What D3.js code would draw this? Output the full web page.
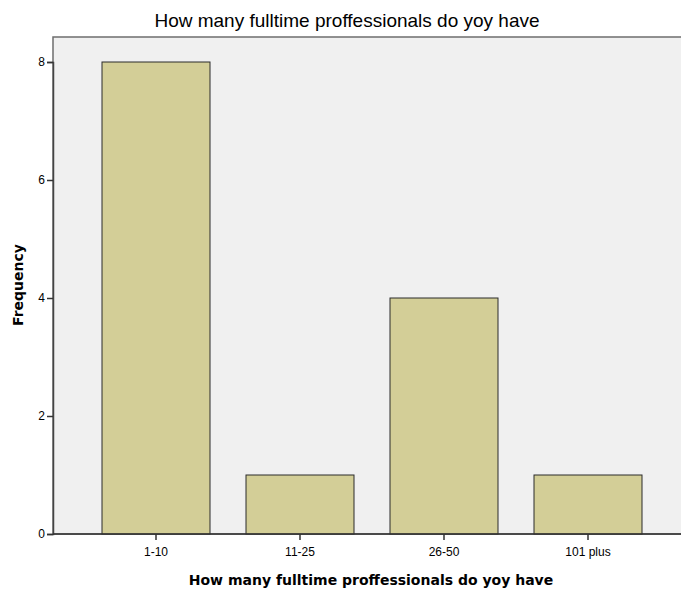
<!DOCTYPE html>
<html>
<head>
<meta charset="utf-8">
<script src="https://cdn.jsdelivr.net/npm/d3@7"></script>
<style>
  body { margin: 0; background: #fff; }
  svg { font-family: "Liberation Sans", Arial, sans-serif; }
</style>
</head>
<body>
<svg width="681" height="591"></svg>
<script>
var categories = ["1-10", "11-25", "26-50", "101 plus"];
var frequency = [8, 1, 4, 1];
var yTicks = [0, 2, 4, 6, 8];

var svg = d3.select("svg"),
    width = +svg.attr("width"),
    height = +svg.attr("height");

// plot frame (the right edge runs off the picture)
var plotLeft = 53, plotTop = 37, plotBottom = 534, plotRight = 690;

svg.append("rect")
    .attr("x", plotLeft).attr("y", plotTop)
    .attr("width", plotRight - plotLeft).attr("height", plotBottom - plotTop)
    .attr("fill", "#f0f0f0")
    .attr("stroke", "#6e6e6e")
    .attr("stroke-width", 1.5);

var x = d3.scaleBand()
    .domain(categories)
    .range([84, 660])
    .paddingInner(0.25)
    .paddingOuter(0.125);

var y = d3.scaleLinear()
    .domain([0, 8])
    .range([plotBottom, 62]);

// bars
svg.append("g")
    .selectAll("rect")
    .data(categories)
    .enter().append("rect")
    .attr("x", function(d) { return x(d); })
    .attr("y", function(d, i) { return y(frequency[i]); })
    .attr("width", x.bandwidth())
    .attr("height", function(d, i) { return plotBottom - y(frequency[i]); })
    .attr("fill", "#d3ce97")
    .attr("stroke", "#2b2b2b")
    .attr("stroke-width", 1);

// y axis
var yAxis = svg.append("g")
    .attr("transform", "translate(" + plotLeft + ",0)")
    .call(d3.axisLeft(y).tickValues(yTicks).tickSize(6).tickPadding(2).tickFormat(d3.format("d")));
yAxis.select(".domain").attr("stroke", "#444").attr("stroke-width", 1.5);
yAxis.selectAll(".tick line").attr("stroke", "#333").attr("stroke-width", 1.5);
yAxis.selectAll("text").attr("font-size", 12).attr("fill", "#000")
    .style("font-family", "Liberation Sans, Arial, sans-serif");

// x axis
var xAxis = svg.append("g")
    .attr("transform", "translate(0," + plotBottom + ")")
    .call(d3.axisBottom(x).tickSize(6).tickPadding(7));
xAxis.select(".domain").attr("d", "M" + plotLeft + ",0H" + plotRight)
    .attr("stroke", "#333").attr("stroke-width", 1.5);
xAxis.selectAll(".tick line").attr("stroke", "#333").attr("stroke-width", 1.5);
xAxis.selectAll("text").attr("font-size", 12).attr("fill", "#000")
    .style("font-family", "Liberation Sans, Arial, sans-serif");

// title
svg.append("text")
    .attr("x", 347).attr("y", 27)
    .attr("text-anchor", "middle")
    .attr("font-size", 19)
    .text("How many fulltime proffessionals do yoy have");

// x label
svg.append("text")
    .attr("x", 371).attr("y", 585)
    .attr("text-anchor", "middle")
    .attr("font-size", 14)
    .attr("font-weight", "bold")
    .style("font-family", "DejaVu Sans, sans-serif")
    .text("How many fulltime proffessionals do yoy have");

// y label
svg.append("text")
    .attr("transform", "translate(23,285) rotate(-90)")
    .attr("text-anchor", "middle")
    .attr("font-size", 14)
    .attr("font-weight", "bold")
    .style("font-family", "DejaVu Sans, sans-serif")
    .text("Frequency");
</script>
</body>
</html>
